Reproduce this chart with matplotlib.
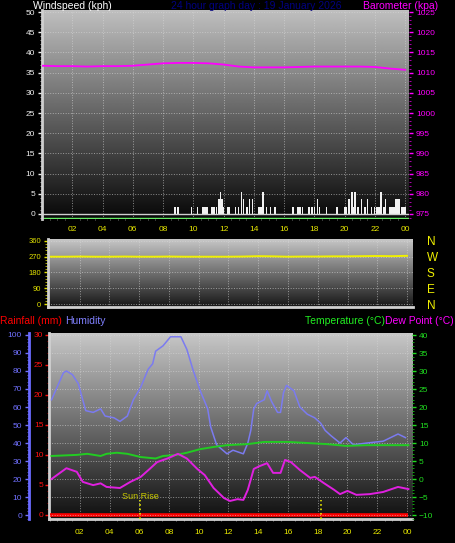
import numpy as np
import matplotlib.pyplot as plt
from matplotlib.ticker import MultipleLocator

plt.rcParams['font.family'] = ['Liberation Sans', 'DejaVu Sans']

# ---- data ----
hour_labels = ['02', '04', '06', '08', '10', '12', '14', '16', '18', '20', '22', '00']

gust_hours = [8.8, 9.0, 9.9, 10.3, 10.6, 10.7, 10.8, 10.9, 11.2, 11.3, 11.4, 11.55, 11.7, 11.8,
              11.9, 12.0, 12.3, 12.4, 12.8, 13.0, 13.2, 13.3, 13.5, 13.6, 13.7, 13.9, 14.3,
              14.4, 14.5, 14.6, 14.85, 15.1, 15.4, 16.6, 16.9, 17.0, 17.1, 17.2, 17.6, 17.7,
              17.8, 17.9, 18.0, 18.2, 18.35, 18.8, 19.5, 20.0, 20.1, 20.3, 20.5, 20.6, 20.7,
              20.9, 21.1, 21.3, 21.4, 21.5, 21.8, 22.0, 22.1, 22.2, 22.3, 22.4, 22.6, 22.7,
              23.0, 23.1, 23.2, 23.3, 23.4, 23.5, 23.6, 23.8, 23.9, 24.0]
gust_kph = [1.8, 1.8, 1.8, 1.8, 1.8, 1.8, 1.8, 1.8, 1.8, 1.8, 1.8, 1.8, 3.6, 5.4,
            3.6, 1.8, 1.8, 1.8, 1.8, 1.8, 5.4, 3.6, 1.8, 1.8, 3.6, 3.6, 1.8,
            1.8, 1.8, 5.4, 1.8, 1.8, 1.8, 1.8, 1.8, 1.8, 1.8, 1.8, 1.8, 1.8,
            1.8, 1.8, 1.8, 3.6, 1.8, 1.8, 1.8, 1.8, 1.8, 3.6, 5.4, 1.8, 5.4,
            1.8, 3.6, 1.8, 1.8, 3.6, 1.8, 1.8, 1.8, 1.8, 1.8, 5.4, 1.8, 3.6,
            1.8, 1.8, 1.8, 1.8, 3.6, 3.6, 3.6, 1.8, 1.8, 1.8]

baro_hours = list(range(0, 25))
baro_hpa = [1011.7, 1011.6, 1011.6, 1011.5, 1011.6, 1011.6, 1011.7, 1012.0, 1012.3, 1012.4,
            1012.4, 1012.3, 1012.0, 1011.5, 1011.3, 1011.3, 1011.3, 1011.4, 1011.5, 1011.5,
            1011.5, 1011.5, 1011.4, 1011.0, 1010.7]

dir_hours = list(range(0, 25))
dir_deg = [270, 270, 271, 270, 270, 271, 270, 270, 271, 270, 270, 270, 270, 271, 273, 272,
           270, 271, 271, 272, 272, 273, 274, 273, 275]

hum_hours = [0.1, 0.9, 1.1, 1.5, 1.9, 2.4, 2.9, 3.4, 3.7, 4.3, 4.7, 5.2, 5.6, 6.1, 6.6, 6.9,
             7.1, 7.6, 8.1, 8.8, 9.2, 9.6, 10.1, 10.6, 10.8, 11.2, 11.9, 12.3, 13.0, 13.3,
             13.5, 13.7, 13.9, 14.4, 14.6, 14.9, 15.3, 15.5, 15.7, 15.9, 16.4, 16.8, 17.3,
             17.8, 18.2, 18.5, 18.9, 19.5, 19.9, 20.4, 21.3, 22.4, 23.4, 23.9]
hum_pct = [64, 79, 80, 78, 73, 58, 57, 59, 55, 54, 52, 55, 64, 71, 81, 84,
           91, 94, 99, 99, 92, 81, 69, 59, 49, 39, 34, 36, 34, 40,
           47, 59, 62, 64, 69, 63, 57, 57, 68, 72, 69, 60, 56,
           54, 51, 47, 44, 40, 43, 39, 40, 41, 45, 43]

dew_hours = [0.1, 1.1, 1.8, 2.2, 2.9, 3.4, 3.8, 4.7, 5.4, 6.1, 6.7, 7.2, 7.9, 8.6, 9.2, 9.9,
             10.4, 11.0, 11.7, 12.1, 12.6, 13.0, 13.3, 13.7, 14.1, 14.6, 15.0, 15.5, 15.8,
             16.2, 16.8, 17.5, 17.8, 18.4, 19.1, 19.5, 20.0, 20.6, 21.5, 22.4, 23.4, 24.1]
dew_c = [0.0, 3.0, 2.0, -0.8, -1.7, -1.2, -2.2, -2.5, -0.8, 0.6, 2.8, 4.7, 5.7, 7.0, 5.7, 2.8,
         1.1, -2.5, -5.3, -6.1, -5.6, -5.8, -3.0, 2.8, 3.6, 4.4, 1.7, 1.7, 5.3,
         4.7, 2.5, 0.3, 0.6, -1.1, -3.0, -4.2, -3.3, -4.4, -4.2, -3.6, -2.2, -2.8]

temp_hours = [0.1, 1.8, 2.5, 3.4, 3.8, 4.5, 5.2, 6.1, 7.1, 7.6, 8.5, 9.2, 10.1, 11.0, 11.9,
              13.3, 14.4, 16.0, 17.3, 18.6, 19.9, 21.3, 24.1]
temp_c = [6.4, 6.7, 7.0, 6.4, 7.0, 7.3, 7.0, 6.1, 5.7, 6.4, 6.7, 7.3, 8.3, 8.9, 9.4,
          9.7, 10.3, 10.3, 10.0, 9.7, 9.2, 9.4, 9.4]

rain_hours = [0, 24.1]
rain_mm = [0, 0]

sun_hours = [6.05, 18.2]

# ---- layout helpers (pixel rects) ----
W, H = 455, 543


def rect(l, t, r, b):
    return [l / W, 1 - b / H, (r - l) / W, (b - t) / H]


def gradient(ax, top, bottom):
    g = np.linspace(top, bottom, 256).reshape(-1, 1)
    ax.imshow(g, cmap='gray', vmin=0, vmax=1, aspect='auto', extent=[0, 1, 0, 1],
              transform=ax.transAxes, zorder=0, interpolation='bilinear')


def plain(ax):
    for s in ax.spines.values():
        s.set_visible(False)


grid_kw = dict(color='#d8d8d8', linestyle=':', linewidth=0.7, alpha=0.6)

fig = plt.figure(figsize=(W / 100, H / 100), dpi=100, facecolor='black')

# ---- wind speed / barometer ----
ax1 = fig.add_axes(rect(42, 10, 409, 219))
gradient(ax1, 0.75, 0.03)
ax1.bar(gust_hours, gust_kph, width=0.09, color='#f2f2f2', zorder=2)
ax1.axhline(0, color='#cfcfcf', lw=1, zorder=2)
ax1.axhline(-0.9, color='#66ee66', lw=1, zorder=2)
ax1.set_xlim(0, 24.26)
ax1.set_ylim(-1.24, 50.5)
ax1.set_xticks(range(2, 25, 2))
ax1.set_xticklabels(hour_labels)
ax1.set_yticks(range(0, 51, 5))
ax1.yaxis.set_minor_locator(MultipleLocator(1))
ax1.xaxis.set_minor_locator(MultipleLocator(0.5))
ax1.tick_params(axis='y', colors='#eeeeee', labelsize=6, length=3, width=1, pad=2)
ax1.tick_params(axis='y', which='minor', colors='#bbbbbb', length=1.5)
ax1.tick_params(axis='x', colors='#e8e800', labelsize=6, length=0, pad=5)
ax1.tick_params(axis='x', which='minor', colors='#888888', length=1)
ax1.grid(True, **grid_kw)
plain(ax1)
ax1.spines['left'].set_visible(True)
ax1.spines['left'].set_color('#d0d0d0')
ax1.spines['left'].set_linewidth(2)

ax1b = ax1.twinx()
ax1b.plot(baro_hours, baro_hpa, color='#ff00ff', lw=1.3)
ax1b.set_ylim(975 - 1.24, 1025.5)
ax1b.set_yticks(range(975, 1026, 5))
ax1b.yaxis.set_minor_locator(MultipleLocator(1))
ax1b.tick_params(axis='y', colors='#ff00ff', labelsize=6, length=3, width=1, pad=2)
ax1b.tick_params(axis='y', which='minor', colors='#cc00cc', length=1.5)
plain(ax1b)

# ---- wind direction ----
ax2 = fig.add_axes(rect(48, 239, 413, 307))
gradient(ax2, 0.78, 0.09)
ax2.plot(dir_hours, dir_deg, color='#f0f000', lw=1.4)
ax2.set_xlim(-0.13, 24.4)
ax2.set_ylim(-17, 371)
ax2.set_xticks(range(2, 25, 2))
ax2.tick_params(axis='x', length=0, labelbottom=False)
ax2.set_yticks([0, 90, 180, 270, 360])
ax2.yaxis.set_minor_locator(MultipleLocator(18))
ax2.tick_params(axis='y', colors='#e0e000', labelsize=5.5, length=3, width=1, pad=2)
ax2.tick_params(axis='y', which='minor', colors='#c8c800', length=2)
ax2.grid(True, **grid_kw)
plain(ax2)
for side in ('left', 'bottom'):
    ax2.spines[side].set_visible(True)
    ax2.spines[side].set_color('#d0d0d0')
    ax2.spines[side].set_linewidth(2)

ax2b = ax2.twinx()
ax2b.set_ylim(-17, 371)
ax2b.set_yticks([0, 90, 180, 270, 360])
ax2b.set_yticklabels(['N', 'E', 'S', 'W', 'N'])
ax2b.tick_params(axis='y', colors='#f0f000', labelsize=8.5, length=0, pad=10)
plain(ax2b)

# ---- rainfall / humidity / temperature / dew point ----
ax3 = fig.add_axes(rect(49, 333, 412, 519))
gradient(ax3, 0.78, 0.06)
ax3.plot(rain_hours, rain_mm, color='#ff0000', lw=2.6, zorder=5, solid_capstyle='butt')
ax3.set_xlim(-0.07, 24.34)
ax3.set_ylim(-0.67, 30.33)
ax3.set_xticks(range(2, 25, 2))
ax3.set_xticklabels(hour_labels)
ax3.xaxis.set_minor_locator(MultipleLocator(0.5))
ax3.tick_params(axis='x', colors='#e8e800', labelsize=6, length=0, pad=7)
ax3.tick_params(axis='x', which='minor', colors='#888888', length=1.5)
ax3.set_yticks(range(0, 31, 5))
ax3.yaxis.set_minor_locator(MultipleLocator(1))
ax3.tick_params(axis='y', colors='#ff1010', labelsize=6, length=3, width=1, pad=1)
ax3.tick_params(axis='y', which='minor', colors='#cc0000', length=1.5)
ax3.grid(True, axis='x', **grid_kw)
plain(ax3)
for side in ('left', 'bottom'):
    ax3.spines[side].set_visible(True)
    ax3.spines[side].set_color('#d0d0d0')
    ax3.spines[side].set_linewidth(2)

axh = ax3.twinx()
axh.yaxis.tick_left()
axh.plot(hum_hours, hum_pct, color='#7b7bf0', lw=1.1)
axh.vlines(sun_hours, -2.2, 8.3, colors='#e8e800', linestyles=':', lw=1.2)
axh.text(sun_hours[0], 10.5, 'Sun Rise', color='#c8c800', fontsize=6.5, ha='center', va='center')
axh.set_ylim(-2.2, 101.1)
axh.set_yticks(range(0, 101, 10))
axh.yaxis.set_minor_locator(MultipleLocator(2))
axh.tick_params(axis='y', colors='#7070ff', labelsize=6, length=3, width=1, pad=2)
axh.tick_params(axis='y', which='minor', colors='#6060dd', length=1.5)
axh.grid(True, axis='y', **grid_kw)
plain(axh)
axh.spines['left'].set_visible(True)
axh.spines['left'].set_position(('outward', 14.4))
axh.spines['left'].set_color('#6a6aff')
axh.spines['left'].set_linewidth(2)

axt = ax3.twinx()
axt.plot(temp_hours, temp_c, color='#22cc22', lw=1.4)
axt.plot(dew_hours, dew_c, color='#e020e0', lw=1.4)
axt.set_ylim(-11.11, 40.56)
axt.set_yticks(range(-10, 41, 5))
axt.yaxis.set_minor_locator(MultipleLocator(1))
axt.tick_params(axis='y', colors='#20dd20', labelsize=6, length=3, width=1, pad=2)
axt.tick_params(axis='y', which='minor', colors='#10bb10', length=1.5)
plain(axt)

# ---- header texts ----
hdr = dict(fontsize=7.5, va='center')
fig.text(33 / W, 1 - 6 / H, 'Windspeed (kph)', color='white', ha='left', **hdr)
fig.text(256 / W, 1 - 6 / H, '24 hour graph day : 19 January 2026', color='#000080', ha='center', **hdr)
fig.text(438 / W, 1 - 6 / H, 'Barometer (kpa)', color='#ff00ff', ha='right', **hdr)
fig.text(0 / W, 1 - 321 / H, 'Rainfall (mm)', color='#ff0000', ha='left', **hdr)
fig.text(65 / W, 1 - 321 / H, 'Humidity', color='#8080ff', ha='left', **hdr)
fig.text(385 / W, 1 - 321 / H, 'Temperature (°C)', color='#22ee22', ha='right', **hdr)
fig.text(385 / W, 1 - 321 / H, 'Dew Point (°C)', color='#ff00ff', ha='left', **hdr)

fig.savefig('out.png', dpi=100, facecolor='black')
